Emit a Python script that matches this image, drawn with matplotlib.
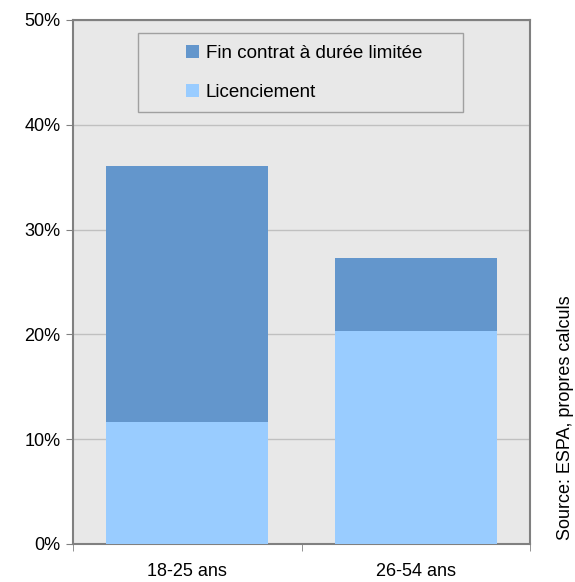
import matplotlib
matplotlib.use("Agg")
import matplotlib.pyplot as plt
import matplotlib.ticker as plticker
from matplotlib.patches import Rectangle

plt.rcParams['font.family'] = ['Liberation Sans Narrow', 'Liberation Sans', 'DejaVu Sans']

categories = ["18-25 ans", "26-54 ans"]
licenciement = [11.6, 20.3]
fin_contrat = [24.5, 7.0]
yticks = [0, 10, 20, 30, 40, 50]

W, H = 575, 582
fig = plt.figure(figsize=(W / 100, H / 100), dpi=100)
ax = fig.add_axes([73 / W, 38 / H, 457 / W, 524 / H])
ax.set_facecolor('#e8e8e8')

x = [0, 1]
ax.bar(x, licenciement, width=0.71, color='#99ccff', label='Licenciement', zorder=3)
ax.bar(x, fin_contrat, width=0.71, bottom=licenciement, color='#6396cc',
       label='Fin contrat à durée limitée', zorder=3)

ax.set_xlim(-0.5, 1.5)
ax.set_ylim(0, 50)
ax.set_yticks(yticks)
ax.set_yticklabels([f"{v}%" for v in yticks], fontsize=13)
ax.set_xticks(x)
ax.set_xticklabels(categories, fontsize=13)
ax.tick_params(axis='x', length=0, pad=14)
ax.xaxis.set_minor_locator(plticker.FixedLocator([-0.5, 0.5, 1.5]))
ax.tick_params(axis='x', which='minor', length=5, color='#808080')
ax.tick_params(axis='y', length=5, color='#808080', pad=4)
ax.grid(axis='y', color='#c0c0c0', lw=1, zorder=0)
for s in ax.spines.values():
    s.set_color('#808080')
    s.set_linewidth(1.5)

# legend box (frame drawn separately to match the reference size)
ax.add_patch(Rectangle((65 / 457, 1 - 92 / 524), 325 / 457, 79 / 524, transform=ax.transAxes,
                       facecolor='#e8e8e8', edgecolor='#a0a0a0', lw=1, zorder=4))
handles, labels = ax.get_legend_handles_labels()
leg = ax.legend(handles[::-1], labels[::-1], loc='upper left',
                bbox_to_anchor=((186 - 73) / 457, 1 - (45 - 20) / 524),
                fontsize=13.5, frameon=False, handlelength=0.7, handleheight=0.7,
                handletextpad=0.35, labelspacing=1.15, borderpad=0, borderaxespad=0)
leg.set_zorder(5)

fig.text(565 / W, 1 - 418 / H, "Source: ESPA, propres calculs", rotation=90,
         ha='center', va='center', fontsize=13)

fig.savefig("out.png", dpi=100)
